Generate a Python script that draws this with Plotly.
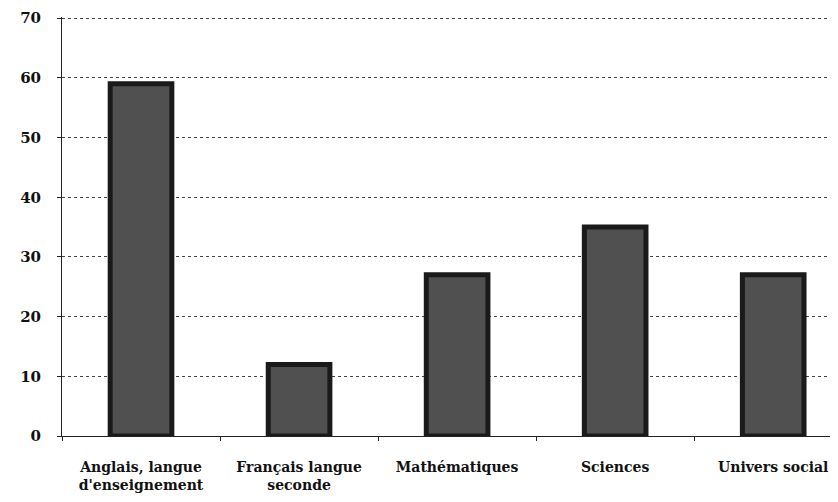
import plotly.graph_objects as go

categories = ["Anglais, langue d'enseignement", "Français langue seconde", "Mathématiques", "Sciences", "Univers social"]
tick_labels = ["Anglais, langue<br>d'enseignement", "Français langue<br>seconde", "Mathématiques", "Sciences", "Univers social"]
values = [59, 12, 27, 35, 27]
y_ticks = [0, 10, 20, 30, 40, 50, 60, 70]

tfont = dict(family="DejaVu Serif, serif", size=14, color="#111111", weight="bold")
yfont = dict(family="DejaVu Serif, serif", size=15, color="#111111", weight="bold")

fig = go.Figure(go.Bar(
    x=categories, y=values, width=0.39,
    marker=dict(color="#505050", line=dict(color="#1a1a1a", width=5)),
    hoverinfo="skip",
))

fig.update_layout(
    width=830, height=494,
    margin=dict(l=54, r=0, t=9, b=66),
    paper_bgcolor="white", plot_bgcolor="white",
    showlegend=False,
    font=tfont,
)
fig.update_xaxes(
    range=[-0.5, 4.41], automargin=False,
    tickmode="array", tickvals=categories, ticktext=tick_labels,
    tickfont=tfont,
    showline=True, linecolor="#222222", linewidth=1,
    ticks="outside", tickson="boundaries", ticklen=4, tickcolor="#222222",
    ticklabelstandoff=18,
    showgrid=False, zeroline=False,
)
fig.update_yaxes(
    range=[0, 70.2], automargin=False, tickmode="array", tickvals=y_ticks,
    tickfont=yfont,
    showline=True, linecolor="#222222", linewidth=1,
    ticks="outside", ticklen=4, tickcolor="#222222",
    showgrid=True, gridcolor="#444444", gridwidth=1, griddash="dot",
    zeroline=False, ticklabelstandoff=13,
)

fig.write_html("out.html")
